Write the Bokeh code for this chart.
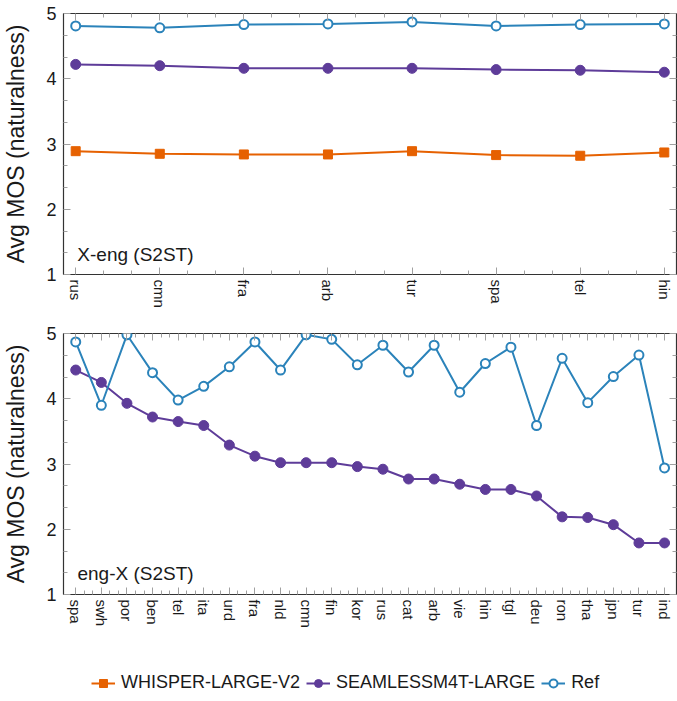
from bokeh.plotting import figure
from bokeh.models import FixedTicker, LinearAxis, Range1d, Label, Legend, LegendItem
from bokeh.layouts import column
from bokeh.embed import file_html
from bokeh.resources import INLINE

# ---------------- data ----------------
top_langs = ["rus", "cmn", "fra", "arb", "tur", "spa", "tel", "hin"]
top_whisper = [2.89, 2.85, 2.84, 2.84, 2.89, 2.83, 2.82, 2.87]
top_seamless = [4.22, 4.20, 4.16, 4.16, 4.16, 4.14, 4.13, 4.10]
top_ref = [4.81, 4.78, 4.83, 4.84, 4.87, 4.81, 4.83, 4.84]

bot_langs = ["spa", "swh", "por", "ben", "tel", "ita", "urd", "fra", "nld", "cmn",
             "fin", "kor", "rus", "cat", "arb", "vie", "hin", "tgl", "deu", "ron",
             "tha", "jpn", "tur", "ind"]
bot_seamless = [4.44, 4.25, 3.93, 3.72, 3.65, 3.59, 3.29, 3.12, 3.02, 3.02,
                3.02, 2.96, 2.92, 2.77, 2.77, 2.69, 2.61, 2.61, 2.51, 2.19,
                2.18, 2.07, 1.79, 1.79]
bot_ref = [4.87, 3.90, 4.98, 4.40, 3.98, 4.19, 4.49, 4.87, 4.44, 4.98,
           4.91, 4.52, 4.82, 4.41, 4.82, 4.10, 4.54, 4.79, 3.59, 4.62,
           3.94, 4.34, 4.67, 2.94]

y_ticks = [1, 2, 3, 4, 5]
y_label = "Avg MOS (naturalness)"
series_names = ["WHISPER-LARGE-V2", "SEAMLESSM4T-LARGE", "Ref"]
top_title = "X-eng (S2ST)"
bot_title = "eng-X (S2ST)"

ORANGE = "#e66101"
PURPLE = "#5e3c99"
BLUE = "#2b83ba"
FONT = "Liberation Sans"
TICK_COL = "#a0a0a0"
TXT = "#1a1a1a"
W = 677
LEFT = 60


def mirror_axes(p, loc, majors, minors):
    for pos, length in ((majors, 7), (minors, 4)):
        ax = LinearAxis(ticker=FixedTicker(ticks=[], minor_ticks=pos))
        ax.axis_line_color = None
        ax.major_label_standoff = 0
        ax.major_tick_in = 0
        ax.major_tick_out = 0
        ax.minor_tick_in = length
        ax.minor_tick_out = 0
        ax.minor_tick_line_color = TICK_COL
        p.add_layout(ax, loc)


def make_fig(langs, pad_l, pad_r, height, border_top, border_bottom):
    n = len(langs)
    p = figure(width=W, height=height,
               x_range=Range1d(-pad_l, n - 1 + pad_r), y_range=Range1d(1, 5),
               output_backend="svg", toolbar_location=None,
               min_border_left=LEFT, min_border_right=1,
               min_border_top=border_top, min_border_bottom=border_bottom)
    p.grid.visible = False
    p.outline_line_color = "#333333"
    p.outline_line_width = 1.2
    p.background_fill_color = "white"
    p.border_fill_color = "white"

    x_major = list(range(n))
    x_minor = [i + k / 3 for i in range(n - 1) for k in (1, 2)]
    y_minor = [1 + k / 3 for k in range(13) if k % 3]

    xa = p.xaxis[0]
    xa.ticker = FixedTicker(ticks=x_major, minor_ticks=x_minor)
    xa.major_label_overrides = {i: l for i, l in enumerate(langs)}
    xa.major_label_orientation = "vertical"
    xa.major_label_text_font = FONT
    xa.major_label_text_font_size = "15px"
    xa.major_label_text_color = TXT
    xa.major_label_standoff = 5

    ya = p.yaxis[0]
    ya.ticker = FixedTicker(ticks=y_ticks, minor_ticks=y_minor)
    ya.major_label_text_font = FONT
    ya.major_label_text_font_size = "18px"
    ya.major_label_text_color = TXT
    ya.major_label_standoff = 7
    ya.axis_label = y_label
    ya.axis_label_text_font = FONT
    ya.axis_label_text_font_size = "23px"
    ya.axis_label_text_font_style = "normal"
    ya.axis_label_text_color = TXT
    ya.axis_label_standoff = 14

    for ax in (xa, ya):
        ax.axis_line_color = None
        ax.major_tick_in = 7
        ax.major_tick_out = 0
        ax.minor_tick_in = 4
        ax.minor_tick_out = 0
        ax.major_tick_line_color = TICK_COL
        ax.minor_tick_line_color = TICK_COL

    mirror_axes(p, "right", y_ticks, y_minor)
    mirror_axes(p, "above", x_major, x_minor)
    return p


def add_series(p, xs, ys, kind, visible=True):
    if kind == 0:
        lr = p.line(xs, ys, line_color=ORANGE, line_width=2, visible=visible)
        sr = p.scatter(xs, ys, marker="square", size=9, fill_color=ORANGE,
                       line_color=ORANGE, visible=visible)
    elif kind == 1:
        lr = p.line(xs, ys, line_color=PURPLE, line_width=2, visible=visible)
        sr = p.scatter(xs, ys, marker="circle", size=10, fill_color=PURPLE,
                       line_color=PURPLE, visible=visible)
    else:
        lr = p.line(xs, ys, line_color=BLUE, line_width=2, visible=visible)
        sr = p.scatter(xs, ys, marker="circle", size=9, fill_color="white",
                       line_color=BLUE, line_width=2, visible=visible)
    return lr, sr


# ---------------- top panel ----------------
p1 = make_fig(top_langs, 0.145, 0.145, 318, 13, 44)
xs1 = list(range(len(top_langs)))
add_series(p1, xs1, top_whisper, 0)
add_series(p1, xs1, top_seamless, 1)
add_series(p1, xs1, top_ref, 2)
p1.add_layout(Label(x=0.02, y=1.31, text=top_title, text_font=FONT,
                    text_font_size="19px", text_color=TXT,
                    text_baseline="alphabetic"))

# ---------------- bottom panel ----------------
p2 = make_fig(bot_langs, 0.478, 0.467, 342, 15, 66)
xs2 = list(range(len(bot_langs)))
add_series(p2, xs2, bot_seamless, 1)
add_series(p2, xs2, bot_ref, 2)
p2.add_layout(Label(x=0.066, y=1.32, text=bot_title, text_font=FONT,
                    text_font_size="19px", text_color=TXT,
                    text_baseline="alphabetic"))

# ---------------- legend strip ----------------
p3 = figure(width=W, height=41, x_range=Range1d(0, 1), y_range=Range1d(0, 1),
            output_backend="svg", toolbar_location=None,
            x_axis_location=None, y_axis_location=None,
            min_border_left=LEFT, min_border_right=1, min_border_top=0,
            min_border_bottom=0)
p3.grid.visible = False
p3.outline_line_color = None
legend_data = [(xs1, top_whisper), (xs2, bot_seamless), (xs2, bot_ref)]
items = []
for k, name in enumerate(series_names):
    lr, sr = add_series(p3, legend_data[k][0], legend_data[k][1], k, visible=False)
    items.append(LegendItem(label=name, renderers=[lr, sr]))
legend = Legend(items=items, orientation="horizontal", location=(28, 8),
                border_line_color=None, background_fill_alpha=0,
                inactive_fill_alpha=0,
                padding=0, margin=0, spacing=6, label_standoff=6,
                glyph_width=24, glyph_height=20, label_height=20,
                label_text_font=FONT, label_text_font_size="18px",
                label_text_color=TXT)
p3.add_layout(legend, "center")

layout = column(p1, p2, p3, spacing=0)
open("out.html", "w").write(file_html(layout, INLINE))
